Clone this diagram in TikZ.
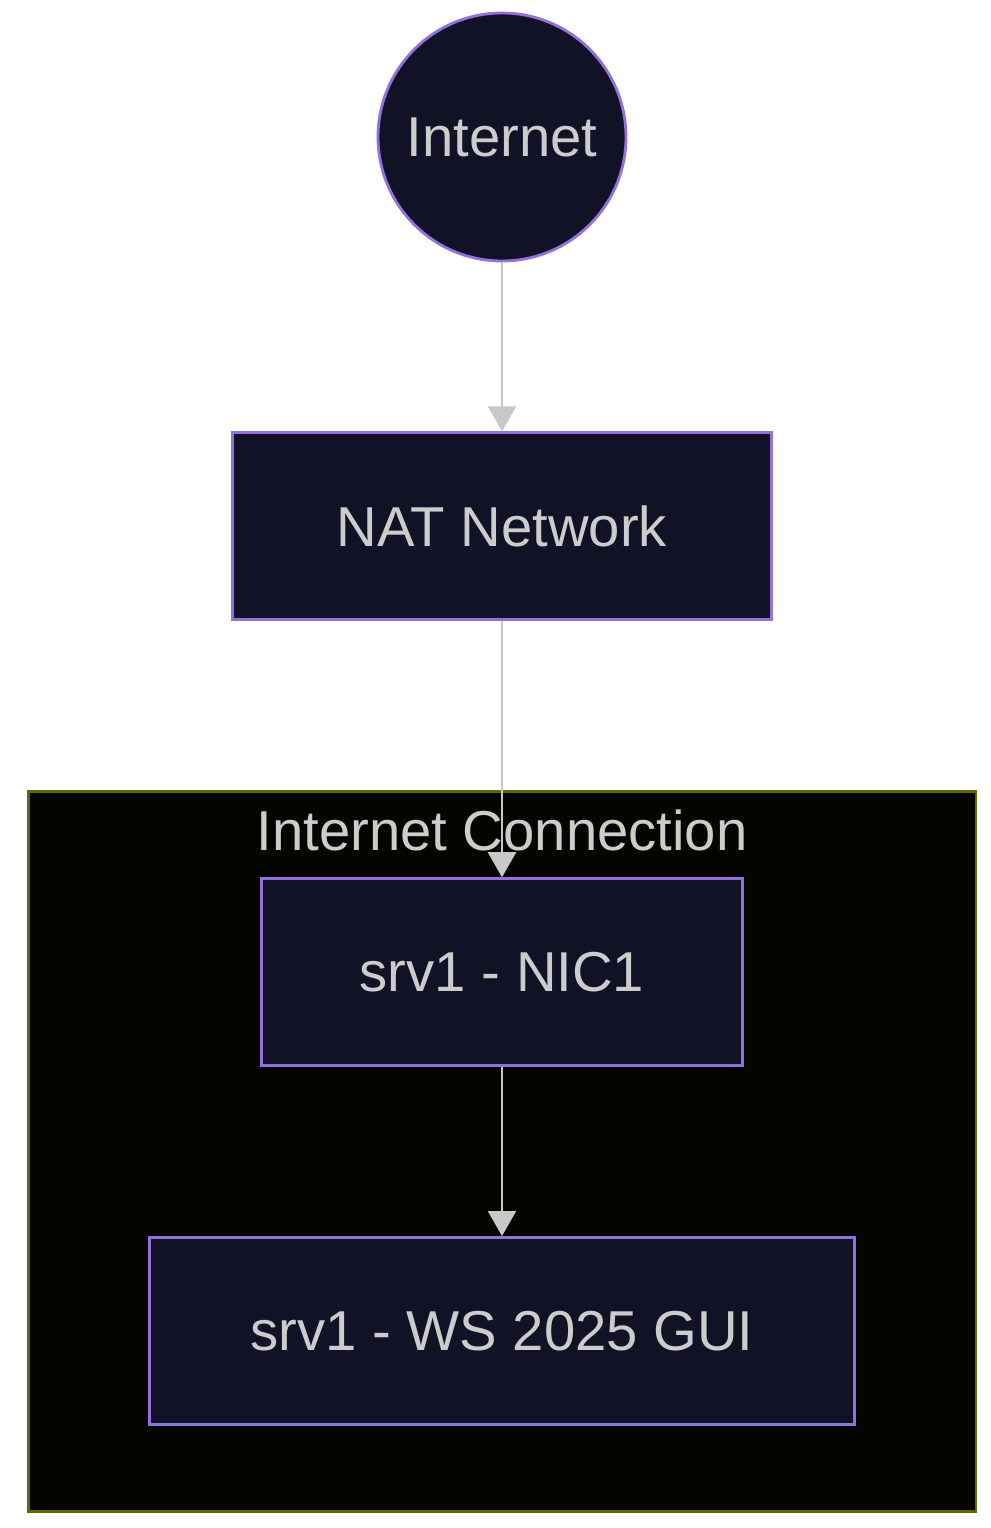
\documentclass[tikz,border=0pt]{standalone}
\usepackage{fontspec}
\setmainfont{Liberation Sans}
\usepackage{tikz}
\usetikzlibrary{positioning,arrows.meta,fit,backgrounds,calc}
\usepackage{xcolor}
\definecolor{nodefill}{HTML}{121226}
\definecolor{nodeborder}{HTML}{9370DB}
\definecolor{nodetext}{HTML}{CCCCCC}
\definecolor{edgegray}{HTML}{C8C8C8}
\definecolor{clusterfill}{HTML}{050500}
\definecolor{clusterborder}{HTML}{666600}

\begin{document}
\begin{tikzpicture}[
        >={Triangle[width=0.28cm,length=0.25cm]},
        node distance=1.69cm,
        block/.style={
            rectangle,
            draw=nodeborder,
            fill=nodefill,
            line width=0.8pt,
            text=nodetext,
            align=center,
            minimum height=1.87cm,
            font=\fontsize{16}{19}\selectfont
        },
        round/.style={
            circle,
            draw=nodeborder,
            fill=nodefill,
            line width=0.8pt,
            text=nodetext,
            inner sep=0pt,
            minimum size=2.48cm,
            font=\fontsize{16}{19}\selectfont
        },
        cluster/.style={
            rectangle,
            draw=clusterborder,
            fill=clusterfill,
            line width=0.8pt
        },
        line/.style={->, draw=edgegray, line width=0.65pt}
    ]

    % PAGE
    \useasboundingbox (0,0) rectangle (9.9,-15.28);

    % OUTSIDE
    \node[round] (internet) at (5.02,-1.37) {Internet};
    \node[block, minimum width=5.39cm, below=of internet] (nat) {NAT Network};

    % INSIDE THE VM
    \node[block, minimum width=4.81cm, below=2.56cm of nat] (nic) {srv1 - NIC1};
    \node[block, minimum width=7.05cm, below=of nic] (gui) {srv1 - WS 2025 GUI};

    \begin{scope}[on background layer]
        \fill[white] (0,0) rectangle (9.9,-15.28);
        \node[cluster, fit=(nic)(gui), inner xsep=1.2cm, inner ysep=0.86cm] (conn) {};
    \end{scope}
    \node[anchor=base, text=nodetext, font=\fontsize{16}{19}\selectfont]
        (connlabel) at ($(conn.north)+(0,-0.61)$) {Internet Connection};

    % CONNECTIONS
    \draw[line] (internet) -- (nat);
    \draw[line] (nat) -- (nic);
    \draw[line] (nic) -- (gui);

\end{tikzpicture}
\end{document}
